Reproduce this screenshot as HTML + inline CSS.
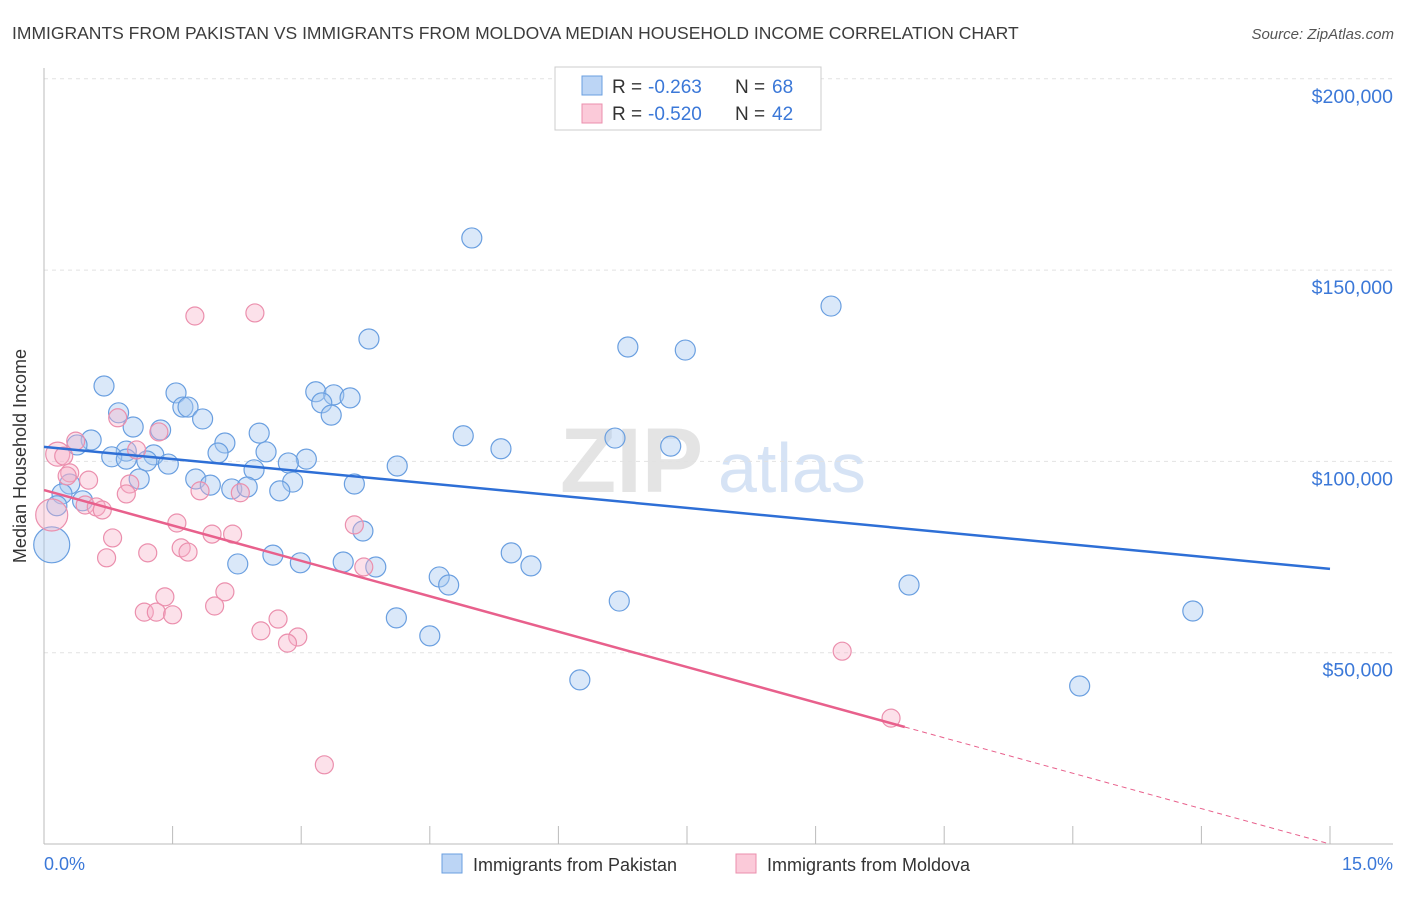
<!DOCTYPE html>
<html><head><meta charset="utf-8"><style>
body{margin:0;background:#fff;font-family:"Liberation Sans",sans-serif}
svg text{font-family:"Liberation Sans",sans-serif}
</style></head><body>
<svg width="1406" height="892" id="chart">
<text x="12" y="39" font-size="17.5" fill="#3c3c3c">IMMIGRANTS FROM PAKISTAN VS IMMIGRANTS FROM MOLDOVA MEDIAN HOUSEHOLD INCOME CORRELATION CHART</text>
<text x="1394" y="39" font-size="15" fill="#555" text-anchor="end" font-style="italic">Source: ZipAtlas.com</text>
<text x="560" y="492" font-size="92" fill="#e4e4e4" font-family="Liberation Serif" font-weight="bold">ZIP</text>
<text x="718" y="492" font-size="70" fill="#d6e3f5">atlas</text>
<g id="grid"></g>
<line x1="44" y1="68" x2="44" y2="844" stroke="#bbb"/>
<line x1="44" y1="844" x2="1393" y2="844" stroke="#bbb"/>
<g id="xticks"></g>
<text x="26" y="456" font-size="18" fill="#333" text-anchor="middle" transform="rotate(-90 26 456)">Median Household Income</text>
<text x="44" y="870" font-size="18" fill="#3b78d8">0.0%</text>
<text x="1393" y="870" font-size="18" fill="#3b78d8" text-anchor="end">15.0%</text>
<g id="pts"></g>
<g id="lines"></g>
<g>
<rect x="555" y="67" width="266" height="63" fill="#fff" stroke="#ccc"/>
<rect x="582" y="76" width="20" height="19" fill="#bcd5f5" stroke="#6a9fe0"/>
<rect x="582" y="104" width="20" height="19" fill="#fbcad9" stroke="#eb8fad"/>
<text x="612" y="93" font-size="19" fill="#333">R =</text>
<text x="648" y="93" font-size="19" fill="#3b78d8">-0.263</text>
<text x="735" y="93" font-size="19" fill="#333">N =</text>
<text x="772" y="93" font-size="19" fill="#3b78d8">68</text>
<text x="612" y="120" font-size="19" fill="#333">R =</text>
<text x="648" y="120" font-size="19" fill="#3b78d8">-0.520</text>
<text x="735" y="120" font-size="19" fill="#333">N =</text>
<text x="772" y="120" font-size="19" fill="#3b78d8">42</text>
</g>
<g>
<rect x="442" y="854" width="20" height="19" fill="#bcd5f5" stroke="#6a9fe0"/>
<text x="473" y="871" font-size="18" fill="#333">Immigrants from Pakistan</text>
<rect x="736" y="854" width="20" height="19" fill="#fbcad9" stroke="#eb8fad"/>
<text x="767" y="871" font-size="18" fill="#333">Immigrants from Moldova</text>
</g>
</svg>
<script>
const yTicks=[50000,100000,150000,200000];
const yTickLabels=["$50,000","$100,000","$150,000","$200,000"];
const xTicks=[0,1.5,3,4.5,6,7.5,9,10.5,12,13.5,15];
const pakX=[4.99,9.18,3.79,6.81,7.48,0.70,1.54,3.17,3.38,3.57,3.24,1.62,1.68,0.87,3.35,1.85,1.04,1.36,2.51,4.89,6.66,0.55,0.385,2.11,7.31,5.33,0.96,2.03,2.59,0.79,0.96,1.28,1.20,3.06,1.45,2.85,4.12,2.45,1.11,1.77,2.90,1.94,3.62,0.30,2.19,2.37,2.75,0.21,0.45,0.15,3.72,0.09,5.45,2.26,2.67,2.99,3.49,3.87,5.68,4.61,4.72,10.09,6.71,13.40,4.11,4.50,6.25,12.08];
const pakY=[158400,140600,132000,129900,129100,119700,117900,118200,117400,116600,115300,114200,114200,112700,112100,111100,109000,108200,107400,106700,106100,105600,104300,104800,104000,103300,102700,102200,102500,101200,100600,101700,100100,100600,99300,99600,98800,97800,95400,95400,94600,93800,94100,94100,92800,93300,92300,91500,89700,88400,81800,78200,76100,73200,75500,73500,73700,72400,72700,69800,67700,67700,63500,60900,59100,54400,42900,41300];
const molX=[1.76,2.46,0.86,1.34,0.37,1.08,0.16,0.23,0.30,0.27,0.52,1.00,1.82,2.29,0.96,0.48,0.61,0.68,0.09,1.55,3.62,1.96,2.20,0.80,1.60,1.68,1.21,0.73,3.73,2.11,1.41,1.17,1.31,1.50,1.99,2.73,2.53,2.96,2.84,9.31,9.88,3.27];
const molY=[138000,138800,111400,107700,105300,103000,101900,101400,97000,96200,95100,94100,92300,91800,91500,88600,88100,87300,86000,83900,83400,81000,81000,80000,77400,76300,76100,74800,72400,65900,64600,60600,60600,59900,62200,58800,55700,54100,52500,50400,32900,20700];
const pakTrend=[103800,-2127];
const molTrend=[92500,-6167];
const molSolidEnd=[10.04];
const NS="http://www.w3.org/2000/svg";
const X=v=>44+v/15*1286;
const Y=v=>844-v/50000*191.3;
function mk(t,a,p){const e=document.createElementNS(NS,t);for(const k in a)e.setAttribute(k,a[k]);p.appendChild(e);return e;}
const grid=document.getElementById('grid');
yTicks.forEach((t,i)=>{
 const l=mk('line',{x1:44,x2:1393,y1:Y(t),y2:Y(t),stroke:'#e2e2e2','stroke-dasharray':'4 4'},grid);
 
 
 const tx=mk('text',{x:1393,y:Y(t)+24,'font-size':19.5,fill:'#3b78d8','text-anchor':'end'},grid);
 tx.textContent=yTickLabels[i];
 
 
});
const xt=document.getElementById('xticks');
xTicks.forEach(t=>{
 const l=mk('line',{x1:X(t),x2:X(t),y1:826,y2:844,stroke:'#bbb'},xt);
 
 
});
const pts=document.getElementById('pts');
pakX.forEach((x,i)=>{
 const r=(i==51)?18:10;
 const c=mk('circle',{cx:X(x),cy:Y(pakY[i]),r:r,fill:'rgba(168,200,240,0.42)',stroke:'#6a9fe0','stroke-width':1.2},pts);
 
 
});
molX.forEach((x,i)=>{
 const r=(i==18)?16:(i==6?12:9);
 const c=mk('circle',{cx:X(x),cy:Y(molY[i]),r:r,fill:'rgba(246,176,200,0.38)',stroke:'#eb8fad','stroke-width':1.2},pts);
 
 
});
const ln=document.getElementById('lines');
let a=mk('line',{x1:X(0),y1:Y(pakTrend[0]),x2:X(15),y2:Y(pakTrend[0]+pakTrend[1]*15),stroke:'#2e6fd6','stroke-width':2.5},ln);


const e=molSolidEnd[0];
let b=mk('line',{x1:X(0),y1:Y(molTrend[0]),x2:X(e),y2:Y(molTrend[0]+molTrend[1]*e),stroke:'#e8608c','stroke-width':2.5},ln);


let d=mk('line',{x1:X(e),y1:Y(molTrend[0]+molTrend[1]*e),x2:X(15),y2:Y(molTrend[0]+molTrend[1]*15),stroke:'#e8608c','stroke-width':1,'stroke-dasharray':'5 4'},ln);


</script>
</body></html>
